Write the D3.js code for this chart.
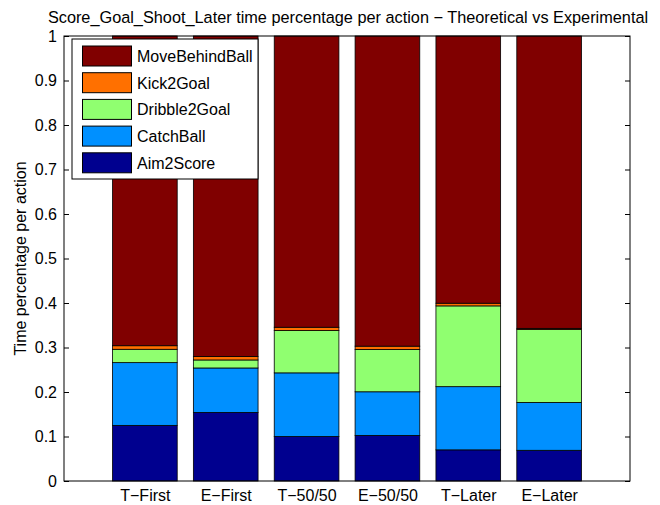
<!DOCTYPE html>
<html>
<head>
<meta charset="utf-8">
<script src="https://cdn.jsdelivr.net/npm/d3@7"></script>
<style>
  body { margin: 0; background: #fff; }
  svg { display: block; font-family: "Liberation Sans", Arial, sans-serif; }
</style>
</head>
<body>
<svg id="chart" width="660" height="505"></svg>
<script>
// Conditions (x categories)
const categories = ["T\u2212First", "E\u2212First", "T\u221250/50", "E\u221250/50", "T\u2212Later", "E\u2212Later"];

// Time share of each action per condition (stacked bottom to top)
const aim2Score      = [0.125, 0.154, 0.100, 0.1025, 0.070, 0.069];
const catchBall      = [0.141, 0.100, 0.143, 0.098, 0.142, 0.1076];
const dribble2Goal   = [0.030, 0.018, 0.095, 0.095, 0.1815, 0.1638];
const kick2Goal      = [0.008, 0.008, 0.0075, 0.0075, 0.006, 0.0026];
const moveBehindBall = [0.696, 0.720, 0.6545, 0.697, 0.6005, 0.657];

const seriesNames  = ["Aim2Score", "CatchBall", "Dribble2Goal", "Kick2Goal", "MoveBehindBall"];
const seriesValues = [aim2Score, catchBall, dribble2Goal, kick2Goal, moveBehindBall];
const seriesColors = ["#00008f", "#0090ff", "#90ff70", "#ff7000", "#800000"];

const yTicks = [0, 0.1, 0.2, 0.3, 0.4, 0.5, 0.6, 0.7, 0.8, 0.9, 1];

const title  = "Score_Goal_Shoot_Later time percentage per action \u2212 Theoretical vs Experimental";
const yLabel = "Time percentage per action";

const svg = d3.select("#chart");
const plot = { left: 64, right: 630, top: 36, bottom: 481 };
const FS = 16;

// Numeric x domain [0, 7] with bars centred on 1..6
const x = d3.scaleLinear().domain([0, categories.length + 1]).range([plot.left, plot.right]);
const y = d3.scaleLinear().domain([0, 1]).range([plot.bottom, plot.top]);
const barW = (x(1) - x(0)) * 0.8;

// Build stacked rows
const rows = categories.map((c, i) => {
  const r = { cat: c, idx: i + 1 };
  seriesNames.forEach((s, k) => { r[s] = seriesValues[k][i]; });
  return r;
});
const stack = d3.stack().keys(seriesNames)(rows);

const g = svg.append("g");
stack.forEach((layer, k) => {
  g.selectAll(null)
    .data(layer)
    .enter()
    .append("rect")
    .attr("x", d => x(d.data.idx) - barW / 2)
    .attr("width", barW)
    .attr("y", d => y(d[1]))
    .attr("height", d => y(d[0]) - y(d[1]))
    .attr("fill", seriesColors[k])
    .attr("stroke", "#000")
    .attr("stroke-width", 0.8);
});

// Axes box
svg.append("rect")
  .attr("x", plot.left).attr("y", plot.top)
  .attr("width", plot.right - plot.left).attr("height", plot.bottom - plot.top)
  .attr("fill", "none").attr("stroke", "#000").attr("stroke-width", 1);

// Y axis with inward ticks on both sides
const yAxis = d3.axisLeft(y).tickValues(yTicks).tickSize(-5).tickPadding(7)
  .tickFormat(d => d === 0 || d === 1 ? d3.format("d")(d) : d3.format(".1f")(d));
const ya = svg.append("g").attr("transform", `translate(${plot.left},0)`).call(yAxis);
ya.select(".domain").remove();
ya.selectAll("text").attr("font-size", FS).attr("fill", "#000")
  .attr("font-family", "'Liberation Sans', Arial, sans-serif");
ya.selectAll("line").attr("stroke", "#000");

const yr = svg.append("g").attr("transform", `translate(${plot.right},0)`)
  .call(d3.axisRight(y).tickValues(yTicks).tickSize(-5).tickFormat(""));
yr.select(".domain").remove();
yr.selectAll("line").attr("stroke", "#000");

// X axis labels
const xa = svg.append("g").attr("transform", `translate(0,${plot.bottom})`)
  .call(d3.axisBottom(x).tickValues(d3.range(1, categories.length + 1)).tickSize(0).tickPadding(9)
    .tickFormat(d => categories[d - 1]));
xa.select(".domain").remove();
xa.selectAll("text").attr("font-size", FS).attr("fill", "#000")
  .attr("font-family", "'Liberation Sans', Arial, sans-serif");

// Title
svg.append("text")
  .attr("x", 348).attr("y", 23)
  .attr("text-anchor", "middle").attr("font-size", 16.3).attr("fill", "#000")
  .text(title);

// Y label
svg.append("text")
  .attr("transform", `translate(26,${(plot.top + plot.bottom) / 2}) rotate(-90)`)
  .attr("text-anchor", "middle").attr("font-size", FS).attr("fill", "#000")
  .text(yLabel);

// Legend (top entry = last stacked series)
const legend = svg.append("g");
const lg = { x: 72, y: 39, w: 186, h: 140 };
legend.append("rect")
  .attr("x", lg.x).attr("y", lg.y).attr("width", lg.w).attr("height", lg.h)
  .attr("fill", "#fff").attr("stroke", "#000").attr("stroke-width", 1);
const order = seriesNames.map((n, k) => k).reverse();
order.forEach((k, i) => {
  const ry = 46 + i * 26.7;
  legend.append("rect")
    .attr("x", 82.5).attr("y", ry).attr("width", 49).attr("height", 20)
    .attr("fill", seriesColors[k]).attr("stroke", "#000").attr("stroke-width", 1);
  legend.append("text")
    .attr("x", 137).attr("y", ry + 16)
    .attr("font-size", FS).attr("fill", "#000")
    .text(seriesNames[k]);
});
</script>
</body>
</html>
